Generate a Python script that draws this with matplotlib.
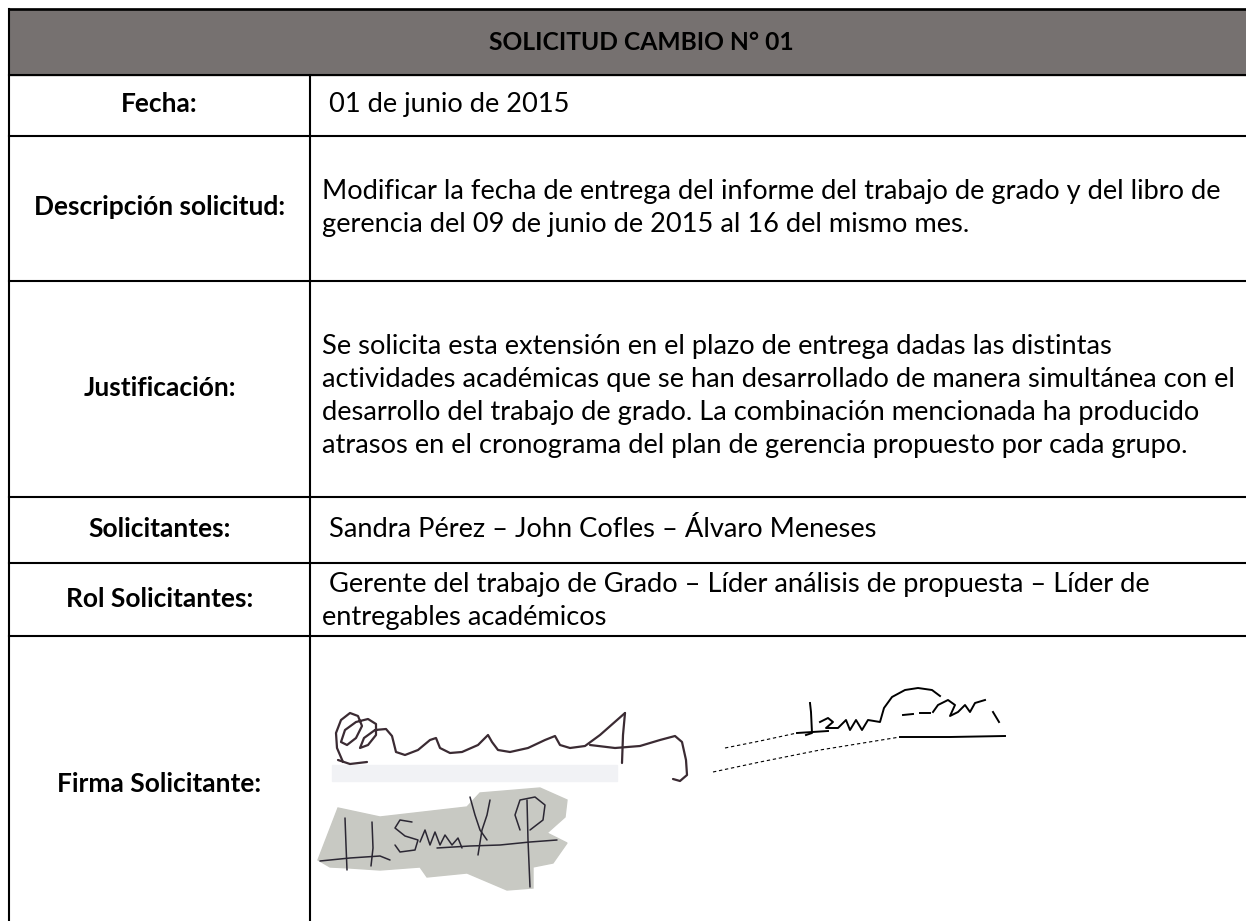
import matplotlib
matplotlib.use('Agg')
import matplotlib.pyplot as plt
from matplotlib.patches import Polygon, Rectangle

W, H = 1246, 921
plt.rcParams['font.family'] = ['Lato', 'DejaVu Sans']

# ---- contenido de la tabla
titulo = 'SOLICITUD CAMBIO N° 01'
etiquetas = ['Fecha:', 'Descripción solicitud:', 'Justificación:',
             'Solicitantes:', 'Rol Solicitantes:', 'Firma Solicitante:']
contenido = [
    [' 01 de junio de 2015'],
    ['Modificar la fecha de entrega del informe del trabajo de grado y del libro de',
     'gerencia del 09 de junio de 2015 al 16 del mismo mes.'],
    ['Se solicita esta extensión en el plazo de entrega dadas las distintas',
     'actividades académicas que se han desarrollado de manera simultánea con el',
     'desarrollo del trabajo de grado. La combinación mencionada ha producido',
     'atrasos en el cronograma del plan de gerencia propuesto por cada grupo.'],
    [' Sandra Pérez – John Cofles – Álvaro Meneses'],
    [' Gerente del trabajo de Grado – Líder análisis de propuesta – Líder de',
     'entregables académicos'],
    [],
]

# ---- firmas (trazos a mano alzada, coords en pixeles)
firma1 = [
    [(343, 762), (337, 748), (336, 733), (341, 720), (350, 713), (358, 716), (362, 726),
     (356, 738), (347, 745), (341, 742), (345, 730), (356, 722), (368, 719), (376, 724),
     (376, 735), (368, 745), (360, 748), (364, 738), (375, 730), (386, 729), (392, 736),
     (396, 752), (405, 755), (418, 750), (430, 740), (436, 738), (440, 748), (450, 753),
     (462, 752), (478, 745), (488, 735), (492, 742), (498, 750), (510, 752), (528, 748),
     (545, 740), (555, 736), (560, 745), (570, 748), (585, 746), (600, 735), (625, 713)],
    [(625, 713), (623, 735), (622, 763)],
    [(590, 745), (615, 748), (640, 746), (660, 740), (675, 736), (682, 742), (686, 760),
     (687, 775), (680, 781), (673, 779)],
    [(338, 760), (350, 764), (367, 762)],
]
firma2_punteada = [
    [(725, 748), (760, 741), (797, 733)],
    [(713, 772), (760, 762), (820, 750), (900, 737)],
]
firma2 = [
    [(797, 733), (828, 731)],
    [(810, 703), (811, 712), (812, 733), (806, 735)],
    [(820, 722), (828, 718), (833, 722), (826, 728), (838, 728), (846, 720), (850, 730),
     (856, 720), (862, 730), (868, 720), (880, 722), (884, 708), (892, 697), (905, 690),
     (918, 688), (932, 690), (940, 696)],
    [(903, 715), (913, 714)], [(920, 713), (930, 713)],
    [(933, 712), (938, 705), (948, 700), (955, 705), (950, 716), (958, 712), (965, 705),
     (970, 712), (975, 703), (985, 700)],
    [(993, 712), (999, 722)],
    [(900, 737), (950, 737), (1005, 736)],
]
mancha3 = [(318, 860), (338, 808), (380, 817), (467, 807), (480, 793), (540, 788),
           (567, 800), (565, 817), (547, 833), (567, 843), (553, 863), (533, 867),
           (533, 888), (507, 890), (467, 873), (427, 877), (420, 867), (380, 870),
           (350, 868), (330, 867)]
firma3 = [
    [(345, 818), (346, 845), (347, 870)],
    [(372, 822), (373, 848), (371, 866)],
    [(320, 861), (350, 858), (380, 856), (390, 860)],
    [(412, 822), (400, 820), (395, 828), (405, 836), (418, 840), (415, 850), (400, 852), (395, 845)],
    [(420, 842), (425, 830), (430, 845), (435, 832), (440, 845), (445, 835), (452, 845),
     (458, 838), (462, 848)],
    [(437, 848), (470, 846), (500, 845), (530, 842), (557, 840)],
    [(470, 797), (475, 815), (480, 830), (487, 840)],
    [(490, 800), (487, 815), (482, 830), (478, 855)],
    [(527, 800), (528, 840), (530, 887)],
    [(520, 830), (515, 815), (520, 800), (535, 797), (545, 805), (543, 820), (530, 830)],
]

# ---- geometria
x0, xdiv, y0, yhead = 9, 310, 9, 75
filas = [75, 136, 281, 497, 563, 636]
y_etiqueta = [105, 208, 389, 530, 600, 785]
y_texto = [105, 208, 396, 530, 601, None]
paso = 33

fig = plt.figure(figsize=(W / 100, H / 100), dpi=100)
ax = fig.add_axes([0, 0, 1, 1])
ax.set_xlim(0, W)
ax.set_ylim(H, 0)
ax.axis('off')
r = fig.canvas.get_renderer()


def ajustar(s, ancho, weight='normal'):
    t = ax.text(0, 0, s, fontsize=10, fontweight=weight)
    w = t.get_window_extent(r).width
    t.remove()
    return 10 * ancho / w


fs = ajustar(contenido[2][1], 918)
fsb = ajustar(etiquetas[1], 253, 'bold')
fst = ajustar(titulo, 305, 'bold')

ax.add_patch(Rectangle((x0, y0), W - x0, yhead - y0, color='#767170', zorder=0))
lw = 1.5
ax.plot([x0, W], [y0, y0], color='k', lw=1.9)
ax.plot([x0, x0], [y0, H], color='k', lw=lw)
for y in filas:
    ax.plot([x0, W], [y, y], color='k', lw=lw)
ax.plot([xdiv, xdiv], [yhead, H], color='k', lw=lw)

ax.text(641, 43 + 7, titulo, fontsize=fst, fontweight='bold', ha='center', va='baseline')
for i, lab in enumerate(etiquetas):
    ax.text((x0 + xdiv) / 2, y_etiqueta[i] + 7, lab, fontsize=fsb, fontweight='bold',
            ha='center', va='baseline')
    lineas = contenido[i]
    if not lineas:
        continue
    yc = y_texto[i] - paso * (len(lineas) - 1) / 2
    for k, s in enumerate(lineas):
        ax.text(322, yc + k * paso + 7, s, fontsize=fs, ha='left', va='baseline')

# firmas
ax.add_patch(Rectangle((332, 765), 285, 16, color='#f1f2f5', zorder=1))
for tr in firma1:
    xs, ys = zip(*tr)
    ax.plot(xs, ys, color='#3b2b33', lw=1.6, solid_capstyle='round', solid_joinstyle='round', zorder=3)
for tr in firma2_punteada:
    xs, ys = zip(*tr)
    ax.plot(xs, ys, color='k', lw=0.8, ls=(0, (3, 2.5)), zorder=3)
for tr in firma2:
    xs, ys = zip(*tr)
    ax.plot(xs, ys, color='k', lw=1.4, solid_joinstyle='round', zorder=3)
ax.add_patch(Polygon(mancha3, closed=True, color='#c8c9c3', zorder=1))
for tr in firma3:
    xs, ys = zip(*tr)
    ax.plot(xs, ys, color='#2b2733', lw=1.1, solid_capstyle='round', solid_joinstyle='round', zorder=3)

fig.savefig('out.png', dpi=100)
